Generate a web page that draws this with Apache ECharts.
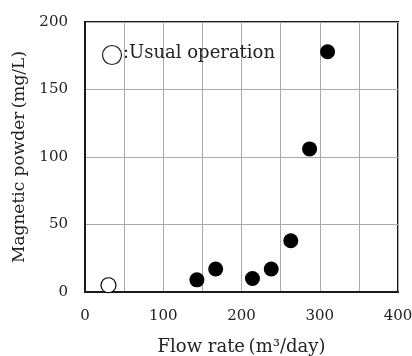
<!DOCTYPE html>
<html><head><meta charset="utf-8">
<script src="https://cdn.jsdelivr.net/npm/echarts@6/dist/echarts.min.js"></script>
<style>html,body{margin:0;padding:0;background:#fff}#c{width:412px;height:356px}</style>
</head><body><div id="c"></div>
<script>
const usualX = [30];
const usualY = [5];
const testX = [143, 167, 214, 238, 263, 287, 310];
const testY = [9, 17, 10, 17, 38, 106, 178];
const xTicks = [0, 100, 200, 300, 400];
const yTicks = [0, 50, 100, 150, 200];
const xName = 'Flow rate\u2009(m\u00b3/day)';
const yName = 'Magnetic powder\u2009(mg/L)';
const legendText = ':Usual operation';

const font = '"DejaVu Serif", "Liberation Serif", serif';
const chart = echarts.init(document.getElementById('c'));
chart.setOption({
  animation: false,
  grid: {left: 85, right: 14, top: 22, bottom: 64, show: true, borderColor: '#1a1a1a', borderWidth: 2,
         containLabel: false, outerBoundsMode: 'none'},
  xAxis: {
    type: 'value', min: 0, max: 400, interval: 50,
    name: xName, nameLocation: 'middle', nameGap: 46,
    nameTextStyle: {fontFamily: font, fontSize: 18, color: '#222'},
    axisLine: {show: true, lineStyle: {color: '#1a1a1a', width: 2}},
    axisTick: {show: false},
    axisLabel: {fontFamily: font, fontSize: 15, color: '#222', margin: 17,
      formatter: v => xTicks.includes(v) ? String(v) : ''},
    splitLine: {show: true, lineStyle: {color: '#aaaaaa', width: 1}}
  },
  yAxis: {
    type: 'value', min: 0, max: 200, interval: 50,
    name: yName, nameLocation: 'middle', nameGap: 54,
    nameTextStyle: {fontFamily: font, fontSize: 17, color: '#222'},
    axisLine: {show: true, lineStyle: {color: '#1a1a1a', width: 2}},
    axisTick: {show: false},
    axisLabel: {fontFamily: font, fontSize: 15, color: '#222', margin: 17,
      formatter: v => yTicks.includes(v) ? String(v) : ''},
    splitLine: {show: true, lineStyle: {color: '#aaaaaa', width: 1}}
  },
  graphic: [
    {type: 'circle', shape: {cx: 112, cy: 55, r: 9.5},
     style: {fill: '#fff', stroke: '#222', lineWidth: 1.2}, z: 10},
    {type: 'text', left: 123, top: 44, z: 10,
     style: {text: legendText, fontFamily: font, fontSize: 18, fill: '#222'}}
  ],
  series: [
    {type: 'scatter', data: usualX.map((x, i) => [x, usualY[i]]), symbolSize: 15,
     itemStyle: {color: '#fff', borderColor: '#000', borderWidth: 1.2, opacity: 1}},
    {type: 'scatter', data: testX.map((x, i) => [x, testY[i]]), symbolSize: 15,
     itemStyle: {color: '#000', opacity: 1}}
  ]
});
</script></body></html>
